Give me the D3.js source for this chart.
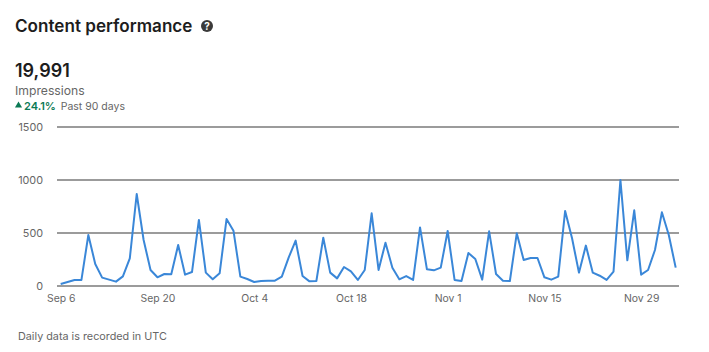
<!DOCTYPE html>
<html>
<head>
<meta charset="utf-8">
<title>Content performance</title>
<script src="https://cdn.jsdelivr.net/npm/d3@7"></script>
<style>
  html, body { margin: 0; padding: 0; background: #fff; }
  svg { display: block; }
  text { font-family: Inter, "Liberation Sans", sans-serif; }
</style>
</head>
<body>
<div id="my_dataviz"></div>
<script>
// daily impressions
const impressions = [
  19, 38, 57, 57, 481, 208, 79, 60, 41, 91,
  261, 868, 434, 151, 82, 113, 110, 387, 107, 132,
  623, 126, 63, 120, 632, 522, 88, 66, 38, 47,
  50, 50, 88, 270, 428, 94, 44, 47, 456, 126,
  72, 179, 138, 57, 151, 686, 151, 409, 173, 63,
  94, 57, 553, 157, 148, 173, 519, 57, 47, 311,
  255, 60, 516, 113, 50, 47, 497, 245, 264, 264,
  82, 60, 88, 708, 450, 126, 381, 126, 97, 57,
  135, 1000, 242, 714, 107, 151, 340, 695, 481, 173
];
const dayTicks = [0, 14, 28, 42, 56, 70, 84];
const dayLabels = ["Sep 6", "Sep 20", "Oct 4", "Oct 18", "Nov 1", "Nov 15", "Nov 29"];
const valueTicks = [0, 500, 1000, 1500];

const width = 709, height = 352;

const svg = d3.select("#my_dataviz").append("svg")
  .attr("width", width)
  .attr("height", height);

const xscl = d3.scaleLinear().domain([0, impressions.length - 1]).range([60.7, 675.7]);
const yscl = d3.scaleLinear().domain([0, 1500]).range([286, 127]);

//////////// header
svg.append("text").attr("x", 15).attr("y", 32)
  .attr("font-size", 17.1).attr("font-weight", 600).attr("fill", "#1d1d1d")
  .text("Content performance");

svg.append("circle").attr("cx", 207).attr("cy", 26).attr("r", 6).attr("fill", "#3a3a3a");
svg.append("text").attr("x", 207).attr("y", 29.5).attr("text-anchor", "middle")
  .attr("font-size", 10).attr("font-weight", 700).attr("fill", "#fff")
  .text("?");

svg.append("text").attr("x", 15).attr("y", 77)
  .attr("font-size", 18).attr("font-weight", 600).attr("fill", "#1d1d1d")
  .text("19,991");

svg.append("text").attr("x", 15).attr("y", 95)
  .attr("font-size", 12.2).attr("fill", "#666")
  .text("Impressions");

svg.append("path")
  .attr("d", d3.symbol(d3.symbolTriangle, 22))
  .attr("transform", "translate(18.5,105.5)")
  .attr("fill", "#0b7a55");

svg.append("text").attr("x", 24).attr("y", 110)
  .attr("font-size", 11).attr("font-weight", 600).attr("fill", "#0b7a55")
  .text("24.1%");

svg.append("text").attr("x", 60.7).attr("y", 110)
  .attr("font-size", 10.5).attr("fill", "#666")
  .text("Past 90 days");

//////////// axes
const yAxis = d3.axisLeft(yscl)
  .tickValues(valueTicks)
  .tickFormat(d3.format("d"))
  .tickSize(0)
  .tickPadding(14);

const gy = svg.append("g").attr("transform", "translate(57,0)").call(yAxis);
gy.select(".domain").remove();
gy.selectAll("text").attr("font-size", 10.8).attr("fill", "#666")
  .style("font-family", "Inter, 'Liberation Sans', sans-serif");

svg.append("g").selectAll("line")
  .data(valueTicks)
  .join("line")
  .attr("x1", 57).attr("x2", 679)
  .attr("y1", d => yscl(d)).attr("y2", d => yscl(d))
  .attr("stroke", "#7a7a7a")
  .attr("stroke-width", 1.4);

const xAxis = d3.axisBottom(xscl)
  .tickValues(dayTicks)
  .tickFormat((d, i) => dayLabels[i])
  .tickSize(0)
  .tickPadding(9);

const gx = svg.append("g").attr("transform", "translate(0,286)").call(xAxis);
gx.select(".domain").remove();
gx.selectAll("text").attr("font-size", 10.4).attr("fill", "#666")
  .style("font-family", "Inter, 'Liberation Sans', sans-serif");

//////////// line
const slice = d3.line()
  .x((d, i) => xscl(i))
  .y(d => yscl(d));

svg.append("path")
  .attr("d", slice(impressions))
  .attr("fill", "none")
  .attr("stroke", "#3a87d8")
  .attr("stroke-width", 2)
  .attr("stroke-linejoin", "round");

svg.append("text").attr("x", 18).attr("y", 340)
  .attr("font-size", 10.8).attr("fill", "#666")
  .text("Daily data is recorded in UTC");
</script>
</body>
</html>
